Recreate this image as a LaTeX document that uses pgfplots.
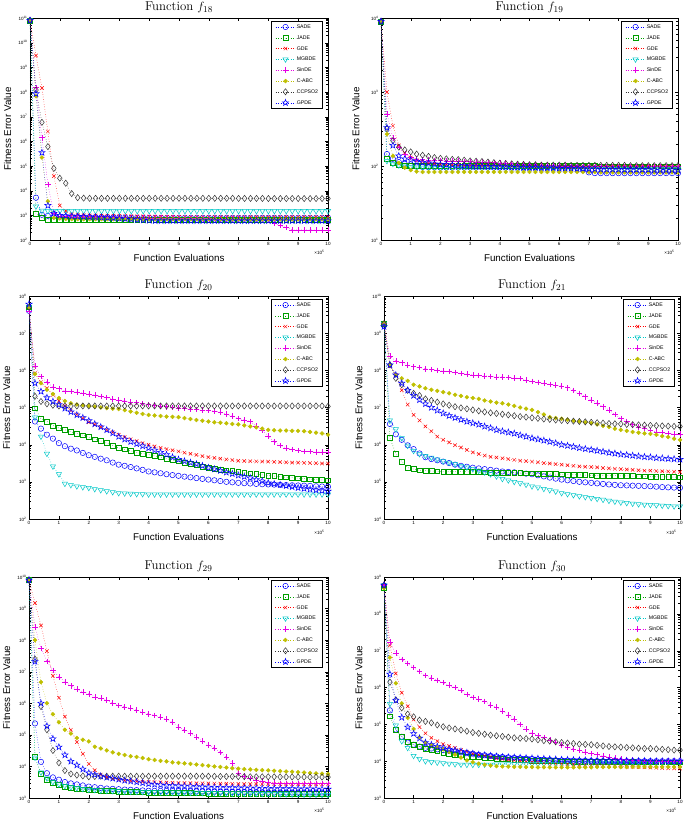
\documentclass[border=0pt]{standalone}
\usepackage{fontspec}
\newfontfamily\arial{Liberation Sans}
\usepackage{pgfplots}
\usepackage{pgfplotstable}
\pgfplotsset{compat=1.18}
\usetikzlibrary{plotmarks}

\definecolor{cSADE}{rgb}{0,0,1}
\definecolor{cJADE}{rgb}{0,0.62,0}
\definecolor{cGDE}{rgb}{1,0,0}
\definecolor{cMGB}{rgb}{0,0.78,0.78}
\definecolor{cSin}{rgb}{0.9,0,0.9}
\definecolor{cABC}{rgb}{0.75,0.75,0}
\definecolor{cCC}{rgb}{0.2,0.2,0.2}
\definecolor{cGP}{rgb}{0,0,1}

\pgfdeclareplotmark{pentagram}{%
\pgfpathmoveto{\pgfpointpolar{90}{\pgfplotmarksize}}%
\pgfpathlineto{\pgfpointpolar{126}{0.4\pgfplotmarksize}}%
\pgfpathlineto{\pgfpointpolar{162}{\pgfplotmarksize}}%
\pgfpathlineto{\pgfpointpolar{198}{0.4\pgfplotmarksize}}%
\pgfpathlineto{\pgfpointpolar{234}{\pgfplotmarksize}}%
\pgfpathlineto{\pgfpointpolar{270}{0.4\pgfplotmarksize}}%
\pgfpathlineto{\pgfpointpolar{306}{\pgfplotmarksize}}%
\pgfpathlineto{\pgfpointpolar{342}{0.4\pgfplotmarksize}}%
\pgfpathlineto{\pgfpointpolar{18}{\pgfplotmarksize}}%
\pgfpathlineto{\pgfpointpolar{54}{0.4\pgfplotmarksize}}%
\pgfpathclose\pgfusepathqstroke}

\pgfplotscreateplotcyclelist{algos}{
{cSADE, dotted, mark=o, mark size=2.7pt, mark options={solid}},
{cJADE, dotted, mark=square, mark size=2.4pt, mark options={solid}},
{cGDE, dotted, mark=x, mark size=2.4pt, mark options={solid}},
{cMGB, dotted, mark=triangle, mark size=3pt, mark options={solid,rotate=180}},
{cSin, dotted, mark=+, mark size=2.8pt, mark options={solid}},
{cABC, dotted, mark=*, mark size=1.9pt, mark options={solid}},
{cCC, dotted, mark=diamond, mark size=3.1pt, mark options={solid}},
{cGP, dotted, mark=pentagram, mark size=3.3pt, mark options={solid}},
}

\newcommand\tickfont{\arial\fontsize{4.6}{5}\selectfont}
\newcommand\E[1]{10\textsuperscript{#1}}
\newcommand\mt[1]{2e#1,3e#1,4e#1,5e#1,6e#1,7e#1,8e#1,9e#1}
\edef\mtA{\mt{2},\mt{3},\mt{4},\mt{5},\mt{6},\mt{7},\mt{8},\mt{9},\mt{10}}
\edef\mtB{\mt{1},\mt{2},\mt{3}}
\edef\mtC{\mt{2},\mt{3},\mt{4},\mt{5},\mt{6},\mt{7}}
\edef\mtD{\mt{4},\mt{5},\mt{6},\mt{7},\mt{8},\mt{9}}
\edef\mtE{\mt{3},\mt{4},\mt{5},\mt{6},\mt{7},\mt{8},\mt{9}}
\edef\mtF{\mt{3},\mt{4},\mt{5},\mt{6},\mt{7},\mt{8}}

\pgfplotsset{
  scale only axis, xmin=0, xmax=10,
  xtick={0,1,2,3,4,5,6,7,8,9,10}, xticklabels={0,1,2,3,4,5,6,7,8,9,10},
  xtick pos=both, ytick pos=both, xticklabel pos=lower, yticklabel pos=left,
  tick align=inside, major tick length=3pt, minor tick length=1.6pt,
  every tick/.append style={black, line width=0.3pt},
  axis line style={line width=0.4pt},
  tick label style={font=\tickfont},
  xticklabel style={yshift=1pt},
  yticklabel style={xshift=1pt},
  label style={font=\arial\fontsize{9.8}{11}\selectfont},
  every axis title shift=0pt,
  title style={font=\fontsize{12.8}{14}\selectfont, at={(0.5,1)}, anchor=base, yshift=7pt, inner sep=0pt},
  xlabel style={at={(axis description cs:0.5,-0.08)}, anchor=center},
  ylabel style={at={(axis description cs:-0.075,0.5)}, anchor=center},
  legend style={at={(0.983,0.986)}, anchor=north east, draw=black, line width=0.6pt,
    font=\arial\fontsize{5.2}{6}\selectfont, inner xsep=3.5pt, inner ysep=2.5pt,
    row sep=4.6pt, nodes={inner sep=1pt, text height=3.6pt, text depth=0.6pt}},
  legend image code/.code={\draw[mark repeat=2,mark phase=2] plot coordinates {(0pt,0pt) (10pt,0pt) (20pt,0pt)};},
  legend cell align=left,
  cycle list name=algos,
  every axis plot/.append style={line width=0.5pt},
  clip=false,
}

\newcommand\eight[1]{%
\addplot table[x=x,y=a]{#1};
\addplot table[x=x,y=b]{#1};
\addplot table[x=x,y=c]{#1};
\addplot table[x=x,y=d]{#1};
\addplot table[x=x,y=e]{#1};
\addplot table[x=x,y=f]{#1};
\addplot table[x=x,y=g]{#1};
\addplot table[x=x,y=h]{#1};
\legend{SADE,JADE,GDE,MGBDE,SinDE,C-ABC,CCPSO2,GPDE}
\node[font=\tickfont, anchor=east] at (axis description cs:1,-0.058) {×10\textsuperscript{5}};
}

% columns: SADE JADE GDE MGBDE SinDE C-ABC CCPSO2 GPDE
\pgfplotstableread{
x a b c d e f g h
0.0 8e10 8e10 8e10 8e10 8e10 8e10 8e10 8e10
0.2 5.2e3 1.2e3 3e9 2.3e3 1.5e8 6.8e7 1.2e8 8.5e7
0.4 1.05e3 7.8e2 1.45e8 1.55e3 1.4e6 2.2e5 5.9e6 3.5e5
0.6 9.5e2 6.8e2 2.5e6 1.5e3 1.8e4 3.7e3 6.1e5 2.5e3
0.8 9.0e2 6.6e2 3.9e4 1.5e3 1.2e3 8.0e2 8.0e4 1.2e3
1.0 8.8e2 6.5e2 2.5e3 1.5e3 9.0e2 7.5e2 3.2e4 1.0e3
1.2 8.7e2 6.5e2 1.5e3 1.5e3 8.8e2 7.2e2 2.0e4 9.5e2
1.4 8.6e2 6.5e2 1.1e3 1.5e3 8.6e2 7.0e2 7.6e3 9.2e2
1.6 8.6e2 6.5e2 1.05e3 1.5e3 8.5e2 7.0e2 5.2e3 9.0e2
1.8 8.5e2 6.4e2 1.02e3 1.5e3 8.4e2 7.0e2 5.0e3 8.8e2
2.0 8.5e2 6.4e2 1.0e3 1.5e3 8.3e2 7.0e2 4.9e3 8.6e2
2.2 8.5e2 6.4e2 9.9e2 1.5e3 8.2e2 7.0e2 4.9e3 8.4e2
2.4 8.4e2 6.4e2 9.8e2 1.5e3 8.2e2 7.0e2 4.9e3 8.2e2
2.6 8.4e2 6.4e2 9.7e2 1.5e3 8.1e2 7.0e2 4.9e3 8.0e2
2.8 8.3e2 6.4e2 9.6e2 1.5e3 8.1e2 7.0e2 4.9e3 7.8e2
3.0 8.3e2 6.4e2 9.5e2 1.5e3 8.0e2 7.0e2 4.9e3 7.5e2
3.2 8.2e2 6.4e2 9.4e2 1.5e3 8.0e2 7.0e2 4.9e3 7.2e2
3.4 8.1e2 6.4e2 9.3e2 1.5e3 7.9e2 7.0e2 4.9e3 6.9e2
3.6 8.0e2 6.4e2 9.2e2 1.5e3 7.9e2 7.0e2 4.9e3 6.6e2
3.8 8.0e2 6.4e2 9.1e2 1.5e3 7.8e2 7.0e2 4.9e3 6.4e2
4.0 8.0e2 6.4e2 9.0e2 1.5e3 7.8e2 7.0e2 4.9e3 6.2e2
4.2 8.0e2 6.4e2 8.9e2 1.5e3 7.7e2 7.0e2 4.9e3 6.0e2
4.4 8.0e2 6.4e2 8.8e2 1.5e3 7.7e2 7.0e2 4.9e3 6.0e2
4.6 8.0e2 6.4e2 8.7e2 1.5e3 7.6e2 7.0e2 4.9e3 6.0e2
4.8 8.0e2 6.4e2 8.7e2 1.5e3 7.6e2 7.0e2 4.9e3 6.0e2
5.0 8.0e2 6.4e2 8.6e2 1.5e3 7.5e2 7.0e2 4.9e3 6.0e2
5.2 8.0e2 6.4e2 8.5e2 1.5e3 7.5e2 7.0e2 4.9e3 6.0e2
5.4 8.0e2 6.4e2 8.5e2 1.5e3 7.4e2 7.0e2 4.9e3 6.0e2
5.6 8.0e2 6.4e2 8.5e2 1.5e3 7.4e2 7.0e2 4.9e3 6.0e2
5.8 8.0e2 6.4e2 8.5e2 1.5e3 7.3e2 7.0e2 4.9e3 6.0e2
6.0 8.0e2 6.4e2 8.5e2 1.5e3 7.3e2 7.0e2 4.9e3 6.0e2
6.2 8.0e2 6.4e2 8.5e2 1.5e3 7.2e2 7.0e2 4.9e3 6.0e2
6.4 8.0e2 6.4e2 8.5e2 1.5e3 7.2e2 7.0e2 4.9e3 6.0e2
6.6 8.0e2 6.4e2 8.5e2 1.5e3 7.1e2 7.0e2 4.9e3 6.0e2
6.8 8.0e2 6.4e2 8.5e2 1.5e3 7.1e2 7.0e2 4.9e3 6.0e2
7.0 8.0e2 6.4e2 8.5e2 1.5e3 7.0e2 7.0e2 4.85e3 6.0e2
7.2 8.0e2 6.4e2 8.5e2 1.5e3 7.0e2 7.0e2 4.85e3 6.0e2
7.4 8.0e2 6.4e2 8.5e2 1.5e3 6.9e2 6.9e2 4.85e3 6.0e2
7.6 8.0e2 6.4e2 8.5e2 1.5e3 6.9e2 6.9e2 4.85e3 6.0e2
7.8 8.0e2 6.4e2 8.5e2 1.5e3 6.8e2 6.9e2 4.85e3 6.0e2
8.0 8.0e2 6.4e2 8.5e2 1.5e3 6.6e2 6.9e2 4.8e3 6.0e2
8.2 8.0e2 6.4e2 8.5e2 1.5e3 5.0e2 6.9e2 4.8e3 6.0e2
8.4 8.0e2 6.4e2 8.5e2 1.5e3 3.8e2 6.9e2 4.8e3 6.0e2
8.6 8.0e2 6.4e2 8.5e2 1.5e3 3.2e2 6.9e2 4.8e3 6.0e2
8.8 8.0e2 6.4e2 8.5e2 1.5e3 2.6e2 6.9e2 4.8e3 6.0e2
9.0 8.0e2 6.4e2 8.5e2 1.5e3 2.6e2 6.9e2 4.8e3 6.0e2
9.2 8.0e2 6.4e2 8.5e2 1.5e3 2.6e2 6.9e2 4.8e3 6.0e2
9.4 8.0e2 6.4e2 8.5e2 1.5e3 2.55e2 6.9e2 4.8e3 6.0e2
9.6 8.0e2 6.4e2 8.5e2 1.5e3 2.55e2 6.9e2 4.8e3 6.0e2
9.8 8.0e2 6.4e2 8.5e2 1.5e3 2.5e2 6.9e2 4.8e3 6.0e2
10 8.0e2 6.4e2 8.5e2 1.5e3 2.5e2 6.9e2 4.8e3 6.0e2
}\tA

\pgfplotstableread{
x a b c d e f g h
0.0 9e3 9e3 9e3 9e3 9e3 9e3 9e3 9e3
0.2 145 126 1000 117 500 270 320 330
0.4 125 110 350 107 240 137 220 190
0.6 113 105 190 102 180 110 180 137
0.8 107 102 150 99 145 95 165 125
1.0 100 100 130 97 130 88 155 120
1.2 98 100 120 96 125 84 145 115
1.4 97 100 115 95 122 83 140 112
1.6 96 100 110 95 120 83 135 110
1.8 96 100 108 94 119 83 130 107
2.0 95 100 105 94 118 83 127 105
2.2 95 100 104 94 117 83 125 104
2.4 95 100 103 94 116 83 123 103
2.6 95 100 102 93 116 83 122 102
2.8 95 100 101 93 115 83 120 101
3.0 95 100 100 93 115 83 117 100
3.2 95 100 100 93 114 83 116 99
3.4 95 100 100 93 113 83 115 99
3.6 95 100 100 93 112 83 113 98
3.8 95 100 100 93 111 83 111 98
4.0 95 100 100 93 110 83 109 97
4.2 95 100 100 93 109 83 108 97
4.4 95 100 100 93 108 83 107 96
4.6 95 100 100 93 107 83 106 96
4.8 95 100 100 93 106 83 105 95
5.0 95 100 100 93 105 83 104 95
5.2 95 100 100 93 104 83 104 95
5.4 95 100 100 93 103 83 103 94
5.6 95 100 99 93 102 83 103 94
5.8 95 100 99 93 101 83 103 94
6.0 95 100 99 93 100 83 103 93
6.2 95 100 99 93 100 83 103 93
6.4 95 100 99 93 99 83 102 93
6.6 95 100 99 93 99 83 102 92
6.8 88 100 99 93 99 83 102 92
7.0 82 100 99 93 98 83 102 91
7.2 80 100 99 92 98 83 102 91
7.4 80 99 98 92 98 82 102 90
7.6 80 99 98 92 98 82 102 90
7.8 80 99 98 92 98 82 102 90
8.0 80 99 98 92 98 82 102 90
8.2 80 99 98 92 98 82 102 89
8.4 80 99 98 92 98 82 101 89
8.6 80 99 98 92 98 82 101 89
8.8 80 99 98 92 98 82 101 89
9.0 80 99 98 92 98 82 101 89
9.2 80 99 98 92 98 82 101 88
9.4 80 99 98 92 98 82 101 88
9.6 80 99 98 92 98 82 101 88
9.8 80 99 98 92 98 82 101 88
10 80 99 98 92 98 82 101 88
}\tB

\pgfplotstableread{
x a b c d e f g h
0.0 4e7 5e7 5e7 5e7 4e7 5e7 5e7 6e7
0.2 4.2e4 9.6e4 8.3e5 5.4e4 1.3e6 8e5 2e5 4.5e5
0.4 2.7e4 5e4 4.8e5 1.65e4 6.8e5 4.5e5 1.45e5 2.7e5
0.6 1.85e4 4.2e4 3.3e5 5.7e3 4.8e5 3e5 1.25e5 1.85e5
0.8 1.45e4 3.3e4 2.2e5 2.6e3 3.5e5 2.3e5 1.15e5 1.45e5
1.0 1.1e4 2.8e4 1.5e5 1.6e3 3.2e5 1.8e5 1.1e5 1.2e5
1.2 9.1e3 2.5e4 1.1e5 8.9e2 2.8e5 1.5e5 1.1e5 9.5e4
1.4 7.8e3 2.2e4 8.3e4 8.2e2 2.7e5 1.3e5 1.1e5 7.6e4
1.6 7e3 2e4 6.5e4 7.6e2 2.6e5 1.2e5 1.1e5 6.3e4
1.8 6e3 1.8e4 5.1e4 7.2e2 2.45e5 1.15e5 1.1e5 5.3e4
2.0 5.2e3 1.6e4 4e4 6.9e2 2.3e5 1.1e5 1.1e5 4.4e4
2.2 4.7e3 1.4e4 3.5e4 6.4e2 2.15e5 1.05e5 1.1e5 3.6e4
2.4 4.2e3 1.25e4 3e4 6e2 2e5 1e5 1.1e5 3e4
2.6 3.8e3 1.1e4 2.5e4 5.6e2 1.85e5 9.6e4 1.1e5 2.5e4
2.8 3.3e3 9.5e3 2.15e4 5.3e2 1.7e5 9.3e4 1.1e5 2.05e4
3.0 2.9e3 8.2e3 1.85e4 5e2 1.6e5 9.1e4 1.1e5 1.65e4
3.2 2.7e3 7.5e3 1.6e4 4.9e2 1.5e5 8.5e4 1.1e5 1.4e4
3.4 2.5e3 6.8e3 1.4e4 4.8e2 1.42e5 7.8e4 1.1e5 1.2e4
3.6 2.3e3 6.2e3 1.25e4 4.7e2 1.35e5 7.2e4 1.1e5 1.05e4
3.8 2.1e3 5.8e3 1.1e4 4.7e2 1.27e5 6.7e4 1.1e5 9.2e3
4.0 1.9e3 5.4e3 1e4 4.6e2 1.2e5 6.3e4 1.1e5 8.1e3
4.2 1.8e3 5e3 9e3 4.6e2 1.15e5 6.1e4 1.1e5 7.1e3
4.4 1.7e3 4.6e3 8.2e3 4.6e2 1.1e5 5.9e4 1.1e5 6.2e3
4.6 1.6e3 4.2e3 7.6e3 4.6e2 1.05e5 5.7e4 1.1e5 5.4e3
4.8 1.52e3 3.9e3 7.1e3 4.6e2 1e5 5.6e4 1.1e5 4.6e3
5.0 1.45e3 3.6e3 6.6e3 4.6e2 9.6e4 5.5e4 1.1e5 4e3
5.2 1.38e3 3.3e3 6.1e3 4.6e2 9.3e4 5.2e4 1.1e5 3.6e3
5.4 1.32e3 3.1e3 5.7e3 4.6e2 9e4 4.9e4 1.1e5 3.3e3
5.6 1.26e3 2.85e3 5.3e3 4.6e2 8.8e4 4.6e4 1.1e5 3e3
5.8 1.2e3 2.6e3 4.9e3 4.6e2 8.6e4 4.4e4 1.1e5 2.7e3
6.0 1.15e3 2.4e3 4.6e3 4.6e2 8.4e4 4.2e4 1.1e5 2.4e3
6.2 1.1e3 2.3e3 4.4e3 4.6e2 8e4 4e4 1.1e5 2.2e3
6.4 1.05e3 2.15e3 4.2e3 4.6e2 7.5e4 3.9e4 1.1e5 2e3
6.6 1e3 2.05e3 4e3 4.6e2 6.6e4 3.75e4 1.1e5 1.8e3
6.8 9.7e2 1.95e3 3.85e3 4.6e2 5.8e4 3.6e4 1.1e5 1.65e3
7.0 9.4e2 1.85e3 3.7e3 4.6e2 5e4 3.5e4 1.1e5 1.5e3
7.2 9.2e2 1.78e3 3.65e3 4.6e2 4.6e4 3.3e4 1.1e5 1.38e3
7.4 9e2 1.7e3 3.6e3 4.6e2 4.2e4 3.1e4 1.1e5 1.27e3
7.6 8.8e2 1.62e3 3.55e3 4.6e2 3.2e4 2.9e4 1.1e5 1.15e3
7.8 8.6e2 1.55e3 3.5e3 4.6e2 2.5e4 2.7e4 1.1e5 1.05e3
8.0 8.5e2 1.48e3 3.5e3 4.6e2 1.7e4 2.5e4 1.1e5 9.4e2
8.2 8.4e2 1.43e3 3.45e3 4.6e2 1.2e4 2.45e4 1.1e5 8.8e2
8.4 8.3e2 1.38e3 3.4e3 4.6e2 9.5e3 2.4e4 1.1e5 8.3e2
8.6 8.2e2 1.33e3 3.35e3 4.6e2 8.2e3 2.4e4 1.1e5 7.8e2
8.8 8.1e2 1.29e3 3.3e3 4.6e2 7.5e3 2.35e4 1.1e5 7.3e2
9.0 8e2 1.25e3 3.3e3 4.6e2 6.9e3 2.35e4 1.1e5 6.9e2
9.2 7.9e2 1.22e3 3.25e3 4.6e2 6.6e3 2.3e4 1.1e5 6.6e2
9.4 7.8e2 1.18e3 3.2e3 4.6e2 6.5e3 2.2e4 1.1e5 6.3e2
9.6 7.6e2 1.15e3 3.15e3 4.6e2 6.4e3 2.1e4 1.1e5 6e2
9.8 7.5e2 1.12e3 3.1e3 4.6e2 6.3e3 2e4 1.1e5 5.8e2
10 7.4e2 1.1e3 3.1e3 4.6e2 6.3e3 1.85e4 1.07e5 5.6e2
}\tC

\pgfplotstableread{
x a b c d e f g h
0.0 1.6e9 1.8e9 1.8e9 1.8e9 1.8e9 1.9e9 1.8e9 1.5e9
0.2 3.6e6 1.5e6 1.3e8 4.5e6 2.4e8 1.4e8 1.4e8 1.4e8
0.4 1.9e6 5.8e5 7.5e7 2.6e6 1.8e8 7.5e7 6.1e7 7.5e7
0.6 1.35e6 3.5e5 2.9e7 1.5e6 1.6e8 6.1e7 4.1e7 4.5e7
0.8 9.6e5 2.4e5 1.2e7 9.4e5 1.4e8 5.2e7 2.9e7 2.9e7
1.0 7.6e5 2.2e5 6.3e6 6.8e5 1.25e8 4.1e7 2.4e7 2.1e7
1.2 5.8e5 2.05e5 4.5e6 5.6e5 1.18e8 3.7e7 2.1e7 1.6e7
1.4 4.6e5 2e5 3.1e6 5e5 1.1e8 3.3e7 1.7e7 1.25e7
1.6 4.1e5 1.95e5 2.3e6 4.5e5 1.05e8 3e7 1.55e7 1e7
1.8 3.8e5 1.92e5 1.65e6 4e5 1e8 2.8e7 1.4e7 8.4e6
2.0 3.5e5 1.9e5 1.35e6 3.6e5 9.5e7 2.6e7 1.25e7 7e6
2.2 3.2e5 1.9e5 1.15e6 3.3e5 9.2e7 2.4e7 1.15e7 6e6
2.4 2.9e5 1.89e5 9.7e5 3e5 8.8e7 2.2e7 1.05e7 5.3e6
2.6 2.7e5 1.88e5 8.4e5 2.7e5 8.3e7 2.05e7 9.8e6 4.7e6
2.8 2.55e5 1.87e5 7.2e5 2.45e5 7.9e7 1.9e7 9.2e6 4.2e6
3.0 2.4e5 1.85e5 6.2e5 2.2e5 7.5e7 1.8e7 8.6e6 3.8e6
3.2 2.3e5 1.83e5 5.6e5 2e5 7.3e7 1.7e7 8.1e6 3.5e6
3.4 2.2e5 1.81e5 5.1e5 1.8e5 7.1e7 1.55e7 7.6e6 3.1e6
3.6 2.1e5 1.79e5 4.7e5 1.6e5 6.9e7 1.45e7 7.2e6 2.8e6
3.8 2e5 1.77e5 4.5e5 1.4e5 6.7e7 1.35e7 6.9e6 2.5e6
4.0 1.9e5 1.75e5 4.3e5 1.2e5 6.6e7 1.3e7 6.6e6 2.3e6
4.2 1.85e5 1.74e5 4.1e5 1.1e5 6.4e7 1.2e7 6.3e6 2.15e6
4.4 1.8e5 1.73e5 3.9e5 1e5 6.2e7 1.1e7 6e6 2e6
4.6 1.72e5 1.72e5 3.7e5 9.2e4 6e7 1e7 5.7e6 1.8e6
4.8 1.66e5 1.71e5 3.6e5 8.4e4 5.5e7 9.3e6 5.5e6 1.65e6
5.0 1.6e5 1.7e5 3.5e5 7.6e4 5e7 8.6e6 5.3e6 1.5e6
5.2 1.5e5 1.68e5 3.35e5 7.1e4 4.7e7 7.5e6 5.1e6 1.4e6
5.4 1.4e5 1.66e5 3.2e5 6.5e4 4.5e7 6.5e6 4.9e6 1.3e6
5.6 1.3e5 1.64e5 3.1e5 6e4 4.2e7 5.5e6 4.8e6 1.2e6
5.8 1.22e5 1.62e5 3e5 5.5e4 4e7 5.2e6 4.6e6 1.1e6
6.0 1.15e5 1.6e5 2.9e5 5e4 3.8e7 5e6 4.5e6 1e6
6.2 1.1e5 1.58e5 2.8e5 4.7e4 3.4e7 4.7e6 4.4e6 9.4e5
6.4 1.05e5 1.56e5 2.7e5 4.4e4 2.9e7 4.4e6 4.3e6 8.8e5
6.6 1e5 1.54e5 2.6e5 4.1e4 2.4e7 4.2e6 4.2e6 8.2e5
6.8 9.7e4 1.52e5 2.55e5 3.9e4 1.95e7 4e6 4.1e6 7.7e5
7.0 9.4e4 1.5e5 2.5e5 3.7e4 1.6e7 3.8e6 4e6 7.3e5
7.2 9.1e4 1.49e5 2.45e5 3.5e4 1.3e7 3.5e6 3.9e6 6.9e5
7.4 8.8e4 1.48e5 2.35e5 3.3e4 1.05e7 3.2e6 3.8e6 6.5e5
7.6 8.5e4 1.47e5 2.3e5 3.1e4 8.6e6 3e6 3.7e6 6.1e5
7.8 8.3e4 1.46e5 2.25e5 2.95e4 6.5e6 2.7e6 3.65e6 5.8e5
8.0 8.1e4 1.45e5 2.2e5 2.8e4 5.1e6 2.5e6 3.6e6 5.5e5
8.2 8e4 1.44e5 2.15e5 2.7e4 4.2e6 2.35e6 3.5e6 5.3e5
8.4 7.9e4 1.43e5 2.1e5 2.6e4 3.5e6 2.2e6 3.45e6 5.1e5
8.6 7.8e4 1.42e5 2.05e5 2.5e4 3e6 2.1e6 3.4e6 4.9e5
8.8 7.7e4 1.41e5 2e5 2.45e4 2.7e6 2e6 3.35e6 4.7e5
9.0 7.6e4 1.4e5 2e5 2.4e4 2.4e6 1.95e6 3.3e6 4.6e5
9.2 7.4e4 1.38e5 1.95e5 2.35e4 2.2e6 1.85e6 3.25e6 4.4e5
9.4 7.2e4 1.37e5 1.92e5 2.3e4 2.1e6 1.7e6 3.2e6 4.3e5
9.6 7.1e4 1.35e5 1.9e5 2.25e4 2e6 1.6e6 3.15e6 4.2e5
9.8 7e4 1.34e5 1.87e5 2.2e4 1.95e6 1.45e6 3.1e6 4.1e5
10 6.9e4 1.33e5 1.85e5 2.2e4 1.95e6 1.35e6 3.1e6 4e5
}\tD

\pgfplotstableread{
x a b c d e f g h
0.0 8e9 8e9 8e9 8e9 8e9 8e9 8e9 8e9
0.2 2.3e5 2e4 1.5e9 1.9e4 2.6e8 1e8 2.5e7 2.1e7
0.4 1.4e4 5.9e3 2.9e8 6.5e3 5.5e7 4.7e6 7.9e5 1e6
0.6 6.1e3 3.8e3 4.5e7 4.2e3 2.1e7 1e6 1.45e5 1.9e5
0.8 4.5e3 3e3 7.4e6 3.2e3 1.1e7 4.5e5 3.2e4 7.5e4
1.0 3.8e3 2.6e3 1.5e6 2.7e3 6.9e6 2.5e5 1.3e4 4.1e4
1.2 3.2e3 2.3e3 3.8e5 2.4e3 4.8e6 1.45e5 7.4e3 2.3e4
1.4 2.9e3 2.15e3 1.45e5 2.2e3 3.6e6 1.1e5 5.8e3 1.45e4
1.6 2.7e3 2e3 5.9e4 2.05e3 2.8e6 8e4 5.3e3 1.1e4
1.8 2.5e3 1.9e3 2.5e4 1.95e3 2.3e6 7e4 5e3 8.2e3
2.0 2.3e3 1.8e3 1.2e4 1.85e3 2e6 6.2e4 4.7e3 6.2e3
2.2 2.2e3 1.77e3 7.6e3 1.8e3 1.6e6 4.2e4 4.8e3 5.5e3
2.4 2.1e3 1.73e3 5.5e3 1.75e3 1.45e6 3.7e4 4.9e3 4.9e3
2.6 2e3 1.7e3 4.6e3 1.72e3 1.25e6 3.2e4 4.9e3 4.5e3
2.8 1.95e3 1.65e3 4.1e3 1.68e3 1e6 2.8e4 4.9e3 4.2e3
3.0 1.9e3 1.6e3 3.8e3 1.65e3 8.5e5 2.5e4 4.9e3 3.9e3
3.2 1.85e3 1.58e3 3.6e3 1.62e3 7.7e5 2.3e4 4.9e3 3.6e3
3.4 1.82e3 1.56e3 3.5e3 1.6e3 7e5 2.1e4 4.9e3 3.4e3
3.6 1.78e3 1.54e3 3.4e3 1.58e3 6e5 2e4 4.9e3 3.2e3
3.8 1.74e3 1.52e3 3.3e3 1.56e3 5.2e5 1.85e4 4.9e3 3e3
4.0 1.7e3 1.5e3 3.25e3 1.55e3 4.6e5 1.7e4 4.9e3 2.8e3
4.2 1.69e3 1.49e3 3.2e3 1.54e3 4.1e5 1.6e4 4.9e3 2.7e3
4.4 1.68e3 1.48e3 3.15e3 1.53e3 3.6e5 1.5e4 4.9e3 2.6e3
4.6 1.67e3 1.47e3 3.1e3 1.52e3 3.2e5 1.45e4 4.9e3 2.5e3
4.8 1.66e3 1.46e3 3.05e3 1.51e3 2.5e5 1.35e4 4.9e3 2.45e3
5.0 1.65e3 1.45e3 3e3 1.5e3 1.8e5 1.3e4 4.9e3 2.4e3
5.2 1.64e3 1.44e3 2.98e3 1.49e3 1.4e5 1.25e4 4.9e3 2.38e3
5.4 1.63e3 1.43e3 2.96e3 1.48e3 1.15e5 1.2e4 4.9e3 2.35e3
5.6 1.62e3 1.42e3 2.94e3 1.47e3 8.5e4 1.15e4 4.9e3 2.3e3
5.8 1.61e3 1.41e3 2.92e3 1.46e3 6.3e4 1.1e4 4.9e3 2.25e3
6.0 1.6e3 1.4e3 2.9e3 1.45e3 4.8e4 1.05e4 4.9e3 2.2e3
6.2 1.59e3 1.4e3 2.88e3 1.44e3 3.8e4 1e4 4.85e3 2.18e3
6.4 1.58e3 1.4e3 2.86e3 1.43e3 2.8e4 9.6e3 4.8e3 2.16e3
6.6 1.57e3 1.4e3 2.84e3 1.42e3 2e4 9.2e3 4.8e3 2.14e3
6.8 1.56e3 1.4e3 2.82e3 1.41e3 1.3e4 8.8e3 4.8e3 2.12e3
7.0 1.55e3 1.4e3 2.8e3 1.4e3 6.2e3 8.5e3 4.75e3 2.1e3
7.2 1.54e3 1.39e3 2.79e3 1.39e3 4.9e3 8.2e3 4.75e3 2.08e3
7.4 1.53e3 1.38e3 2.78e3 1.38e3 4.2e3 8e3 4.7e3 2.06e3
7.6 1.52e3 1.37e3 2.77e3 1.37e3 3.7e3 7.8e3 4.7e3 2.04e3
7.8 1.51e3 1.36e3 2.76e3 1.36e3 3.4e3 7.6e3 4.7e3 2.02e3
8.0 1.5e3 1.35e3 2.75e3 1.35e3 3.2e3 7.5e3 4.7e3 2e3
8.2 1.5e3 1.35e3 2.74e3 1.34e3 3e3 7.3e3 4.7e3 1.99e3
8.4 1.5e3 1.35e3 2.73e3 1.33e3 2.9e3 7.1e3 4.65e3 1.98e3
8.6 1.5e3 1.35e3 2.72e3 1.32e3 2.9e3 6.9e3 4.65e3 1.97e3
8.8 1.5e3 1.35e3 2.72e3 1.31e3 2.9e3 6.8e3 4.65e3 1.96e3
9.0 1.5e3 1.35e3 2.71e3 1.3e3 2.9e3 6.6e3 4.6e3 1.95e3
9.2 1.5e3 1.35e3 2.71e3 1.29e3 2.88e3 6.4e3 4.6e3 1.94e3
9.4 1.5e3 1.35e3 2.7e3 1.28e3 2.87e3 6.2e3 4.6e3 1.93e3
9.6 1.5e3 1.35e3 2.7e3 1.27e3 2.86e3 6e3 4.6e3 1.92e3
9.8 1.5e3 1.35e3 2.7e3 1.26e3 2.85e3 5.9e3 4.6e3 1.91e3
10 1.5e3 1.35e3 2.7e3 1.25e3 2.85e3 5.8e3 4.6e3 1.9e3
}\tE

\pgfplotstableread{
x a b c d e f g h
0.0 5.5e8 5e8 6e8 6e8 6e8 5e8 6e8 6e8
0.2 2.4e5 1.65e5 1.4e7 3.6e5 1.7e7 6.5e6 1.4e6 2.3e6
0.4 7.2e4 7.2e4 2.4e6 9.3e4 8.5e6 1.3e6 4.6e5 4.5e5
0.6 4.6e4 4.7e4 7.2e5 3.5e4 5.8e6 3.7e5 2.8e5 1.55e5
0.8 3.2e4 3.3e4 3.1e5 2.3e4 4.5e6 1.5e5 1.9e5 8.4e4
1.0 2.8e4 2.8e4 1.35e5 1.4e4 3.5e6 7.5e4 1.6e5 5.6e4
1.2 2.5e4 2.5e4 8.4e4 1.15e4 2.7e6 4.4e4 1.3e5 4.2e4
1.4 2.3e4 2.2e4 5.7e4 1e4 2.1e6 3.2e4 1.2e5 3.2e4
1.6 2.2e4 2e4 4.3e4 9.5e3 1.8e6 2.7e4 1.1e5 2.8e4
1.8 2.1e4 1.85e4 3.5e4 9.2e3 1.55e6 2.4e4 9.6e4 2.5e4
2.0 2e4 1.7e4 2.9e4 8.9e3 1.35e6 2.1e4 8.6e4 2.3e4
2.2 1.9e4 1.6e4 2.6e4 8.6e3 1.15e6 1.8e4 8e4 2.1e4
2.4 1.8e4 1.5e4 2.3e4 8.3e3 1e6 1.5e4 7.5e4 2e4
2.6 1.75e4 1.45e4 2e4 8.1e3 8.2e5 1.25e4 7e4 1.85e4
2.8 1.65e4 1.35e4 1.8e4 8e3 6.5e5 1.05e4 6.5e4 1.7e4
3.0 1.6e4 1.3e4 1.6e4 8e3 5.4e5 9.4e3 6e4 1.6e4
3.2 1.5e4 1.27e4 1.5e4 8e3 4.8e5 8.6e3 5.7e4 1.5e4
3.4 1.45e4 1.23e4 1.4e4 8.1e3 4.2e5 8e3 5.4e4 1.45e4
3.6 1.4e4 1.2e4 1.3e4 8.1e3 3.4e5 7.6e3 5.1e4 1.4e4
3.8 1.35e4 1.17e4 1.2e4 8.2e3 2.9e5 7.3e3 4.9e4 1.35e4
4.0 1.3e4 1.15e4 1.15e4 8.2e3 2.3e5 7.2e3 4.7e4 1.3e4
4.2 1.27e4 1.13e4 1.1e4 8.3e3 1.8e5 7.1e3 4.5e4 1.28e4
4.4 1.24e4 1.11e4 1.05e4 8.3e3 1.4e5 7e3 4.3e4 1.26e4
4.6 1.2e4 1.09e4 1e4 8.3e3 1e5 7e3 4.2e4 1.24e4
4.8 1.17e4 1.07e4 9.7e3 8.4e3 7.5e4 6.9e3 4.1e4 1.22e4
5.0 1.15e4 1.05e4 9.4e3 8.4e3 5.8e4 6.9e3 4e4 1.2e4
5.2 1.12e4 1.04e4 9.2e3 8.4e3 4.9e4 6.8e3 3.8e4 1.18e4
5.4 1.1e4 1.03e4 9e3 8.5e3 4.4e4 6.8e3 3.6e4 1.16e4
5.6 1.08e4 1.02e4 8.8e3 8.5e3 3.8e4 6.8e3 3.5e4 1.14e4
5.8 1.06e4 1.01e4 8.6e3 8.5e3 3.2e4 6.8e3 3.35e4 1.12e4
6.0 1.05e4 1e4 8.5e3 8.6e3 2.7e4 6.8e3 3.2e4 1.1e4
6.2 1.04e4 9.9e3 8.3e3 8.6e3 2.4e4 6.8e3 3.1e4 1.09e4
6.4 1.03e4 9.8e3 8.2e3 8.6e3 2.15e4 6.8e3 3e4 1.08e4
6.6 1.02e4 9.8e3 8e3 8.7e3 1.95e4 6.8e3 2.9e4 1.07e4
6.8 1.02e4 9.7e3 7.9e3 8.7e3 1.75e4 6.8e3 2.85e4 1.06e4
7.0 1.01e4 9.7e3 7.8e3 8.7e3 1.6e4 6.8e3 2.8e4 1.05e4
7.2 1.01e4 9.6e3 7.7e3 8.7e3 1.5e4 6.9e3 2.7e4 1.05e4
7.4 1e4 9.6e3 7.5e3 8.8e3 1.4e4 6.9e3 2.6e4 1.04e4
7.6 1e4 9.6e3 7.4e3 8.8e3 1.3e4 6.9e3 2.5e4 1.03e4
7.8 1e4 9.5e3 7.3e3 8.8e3 1.2e4 6.9e3 2.45e4 1.03e4
8.0 1e4 9.5e3 7.2e3 8.8e3 1.15e4 6.9e3 2.4e4 1.02e4
8.2 1e4 9.5e3 7.1e3 8.8e3 1.1e4 6.9e3 2.35e4 1.02e4
8.4 1e4 9.5e3 7e3 8.9e3 1.07e4 7e3 2.3e4 1.01e4
8.6 1e4 9.4e3 6.9e3 8.9e3 1.04e4 7e3 2.25e4 1.01e4
8.8 1e4 9.4e3 6.8e3 8.9e3 1.02e4 7e3 2.2e4 1.01e4
9.0 1e4 9.4e3 6.7e3 8.9e3 1e4 7e3 2.2e4 1e4
9.2 1e4 9.4e3 6.6e3 8.9e3 1e4 7e3 2.15e4 1e4
9.4 1e4 9.4e3 6.5e3 9e3 1e4 7e3 2.1e4 1e4
9.6 1e4 9.4e3 6.4e3 9e3 1e4 7e3 2.05e4 1e4
9.8 1e4 9.4e3 6.35e3 9e3 1e4 7e3 2e4 1e4
10 1e4 9.4e3 6.3e3 9e3 1e4 7e3 2e4 1e4
}\tF

\begin{document}
\begin{tikzpicture}
\useasboundingbox (0,0) rectangle (685pt,823pt);

\begin{axis}[ymode=log, at={(30pt,583pt)}, anchor=south west, width=298pt, height=222pt,
  xlabel={Function Evaluations}, ylabel={Fitness Error Value},
  ymin=1e2, ymax=1e11, ytick={1e2,1e3,1e4,1e5,1e6,1e7,1e8,1e9,1e10,1e11}, minor ytick/.expand once=\mtA,
  yticklabels={\E{2},\E{3},\E{4},\E{5},\E{6},\E{7},\E{8},\E{9},\E{10},\E{11}},
  title={Function $f_{18}$}]
\eight{\tA}
\end{axis}

\begin{axis}[ymode=log, at={(381pt,583pt)}, anchor=south west, width=297pt, height=222pt,
  xlabel={Function Evaluations}, ylabel={Fitness Error Value},
  ylabel style={at={(axis description cs:-0.085,0.5)}},
  ymin=1e1, ymax=1e4, ytick={1e1,1e2,1e3,1e4}, minor ytick/.expand once=\mtB,
  yticklabels={\E{1},\E{2},\E{3},\E{4}},
  title={Function $f_{19}$}]
\eight{\tB}
\end{axis}

\begin{axis}[ymode=log, at={(29pt,304pt)}, anchor=south west, width=299pt, height=223pt,
  xlabel={Function Evaluations}, ylabel={Fitness Error Value},
  ymin=1e2, ymax=1e8, ytick={1e2,1e3,1e4,1e5,1e6,1e7,1e8}, minor ytick/.expand once=\mtC,
  yticklabels={\E{2},\E{3},\E{4},\E{5},\E{6},\E{7},\E{8}},
  title={Function $f_{20}$}]
\eight{\tC}
\end{axis}

\begin{axis}[ymode=log, at={(384pt,304pt)}, anchor=south west, width=296pt, height=223pt,
  xlabel={Function Evaluations}, ylabel={Fitness Error Value},
  ylabel style={at={(axis description cs:-0.085,0.5)}},
  ymin=1e4, ymax=1e10, ytick={1e4,1e5,1e6,1e7,1e8,1e9,1e10}, minor ytick/.expand once=\mtD,
  yticklabels={\E{4},\E{5},\E{6},\E{7},\E{8},\E{9},\E{10}},
  title={Function $f_{21}$}]
\eight{\tD}
\end{axis}

\begin{axis}[ymode=log, at={(29pt,25pt)}, anchor=south west, width=299pt, height=221pt,
  xlabel={Function Evaluations}, ylabel={Fitness Error Value},
  ymin=1e3, ymax=1e10, ytick={1e3,1e4,1e5,1e6,1e7,1e8,1e9,1e10}, minor ytick/.expand once=\mtE,
  yticklabels={\E{3},\E{4},\E{5},\E{6},\E{7},\E{8},\E{9},\E{10}},
  title={Function $f_{29}$}]
\eight{\tE}
\end{axis}

\begin{axis}[ymode=log, at={(384pt,25pt)}, anchor=south west, width=296pt, height=221pt,
  xlabel={Function Evaluations}, ylabel={Fitness Error Value},
  ylabel style={at={(axis description cs:-0.085,0.5)}},
  ymin=1e3, ymax=1e9, ytick={1e3,1e4,1e5,1e6,1e7,1e8,1e9}, minor ytick/.expand once=\mtF,
  yticklabels={\E{3},\E{4},\E{5},\E{6},\E{7},\E{8},\E{9}},
  title={Function $f_{30}$}]
\eight{\tF}
\end{axis}
\end{tikzpicture}
\end{document}
